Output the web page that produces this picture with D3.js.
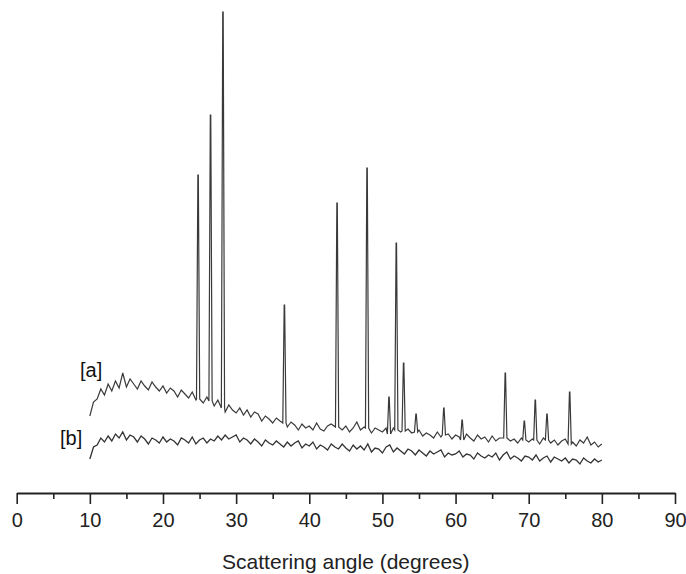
<!DOCTYPE html>
<html>
<head>
<meta charset="utf-8">
<script src="https://cdn.jsdelivr.net/npm/d3@7"></script>
<style>
  body { margin: 0; background: #fff; }
  text { font-family: "Liberation Sans", Arial, sans-serif; }
</style>
</head>
<body>
<div id="chart"></div>
<script>
// scan grid: 10 to 80 degrees, 0.5 degree step
const scanStart = 10, scanStep = 0.5;

// pattern [a] background, intensity (a.u.)
const baseA = [
  74, 88, 91, 101, 95, 106, 99, 109, 102, 117,
  103, 111, 106, 101, 109, 104, 100, 108, 103, 99,
  104, 97, 102, 99, 93, 100, 96, 92, 98, 90,
  91, 87, 93, 89, 84, 90, 82, 78, 85, 80,
  77, 82, 75, 80, 73, 78, 76, 69, 74, 71,
  67, 72, 69, 67, 63, 68, 65, 60, 66, 62,
  64, 60, 67, 61, 59, 64, 66, 59, 63, 60,
  64, 58, 62, 68, 60, 63, 62, 57, 62, 60,
  58, 62, 56, 62, 60, 58, 59, 61, 57, 58,
  60, 54, 57, 55, 52, 58, 53, 55, 56, 51,
  55, 53, 50, 56, 52, 49, 55, 51, 53, 48,
  54, 49, 52, 55, 52, 49, 51, 47, 52, 50,
  48, 51, 50, 46, 52, 50, 47, 50, 45, 49,
  51, 46, 48, 44, 50, 47, 53, 45, 48, 43,
  46
];

// pattern [b] background
const baseB = [
  31, 43, 45, 52, 48, 54, 49, 56, 52, 58,
  50, 55, 53, 48, 54, 51, 46, 52, 50, 47,
  53, 48, 51, 49, 45, 52, 50, 47, 53, 46,
  50, 52, 47, 51, 49, 54, 50, 55, 51, 53,
  55, 48, 52, 50, 46, 51, 48, 44, 50, 47,
  45, 49, 46, 43, 48, 44, 47, 49, 42, 46,
  44, 48, 41, 45, 43, 40, 46, 43, 41, 46,
  42, 39, 45, 41, 44, 40, 46, 38, 42, 41,
  37, 43, 45, 38, 42, 39, 36, 41, 39, 35,
  40, 37, 34, 39, 36, 38, 40, 33, 37, 35,
  36, 39, 33, 36, 35, 31, 37, 34, 32, 35,
  33, 37, 30, 35, 38, 31, 34, 32, 29, 34,
  33, 30, 35, 29, 32, 34, 28, 33, 31, 29,
  32, 27, 31, 30, 26, 32, 29, 27, 31, 28,
  30
];

// Bragg peaks of pattern [a]
const peakAngleA = [24.8, 26.5, 28.2, 36.6, 43.8, 47.9, 50.9, 51.9, 52.9, 54.6, 58.4, 60.9, 66.8, 69.4, 70.9, 72.5, 75.6];
const peakTopA   = [315, 375, 478, 185, 287, 322, 93, 247, 127, 76, 82, 70, 117, 69, 90, 76, 98];

const xTicks = [0, 10, 20, 30, 40, 50, 60, 70, 80, 90];
const xMinorTicks = [5, 15, 25, 35, 45, 55, 65, 75, 85];

const width = 686, height = 574;

const svg = d3.select("#chart")
    .append("svg")
    .attr("width", width)
    .attr("height", height);

const x = d3.scaleLinear().domain([0, 90]).range([16.7, 675]);
const y = d3.scaleLinear().domain([0, 480]).range([490, 10]);
const axisY = 493;

// build the scan points, peaks spliced into the background
function buildScan(base, peakAngles, peakTops) {
    const angles = base.map((v, i) => scanStart + i * scanStep);
    const pts = [];
    angles.forEach((a, i) => {
        const near = peakAngles.some(p => Math.abs(p - a) < 0.3);
        if (!near) pts.push([a, base[i]]);
    });
    peakAngles.forEach((c, k) => {
        const i = Math.round((c - scanStart) / scanStep);
        const b = base[Math.max(0, Math.min(base.length - 1, i))];
        pts.push([c - 0.22, b]);
        pts.push([c - 0.03, peakTops[k]]);
        pts.push([c + 0.03, peakTops[k]]);
        pts.push([c + 0.22, b]);
    });
    return pts.sort((p, q) => p[0] - q[0]);
}

const line = d3.line()
    .x(d => x(d[0]))
    .y(d => y(d[1]));

svg.append("path")
    .datum(buildScan(baseB, [], []))
    .attr("d", line)
    .attr("fill", "none")
    .attr("stroke", "#333")
    .attr("stroke-width", 1.3);

svg.append("path")
    .datum(buildScan(baseA, peakAngleA, peakTopA))
    .attr("d", line)
    .attr("fill", "none")
    .attr("stroke", "#3a3a3a")
    .attr("stroke-width", 1.2);

// series labels
svg.append("text").attr("x", 80).attr("y", 377)
    .attr("style", "font-size: 20px; fill: #111").text("[a]");
svg.append("text").attr("x", 60).attr("y", 445)
    .attr("style", "font-size: 20px; fill: #111").text("[b]");

// X axis (minor ticks first, then major with labels)
svg.append("g")
    .attr("transform", `translate(0, ${axisY})`)
    .call(d3.axisBottom(x).tickValues(xMinorTicks).tickSize(6).tickSizeOuter(0).tickFormat(""))
    .call(g => g.select(".domain").remove())
    .selectAll("line").attr("stroke", "#222").attr("stroke-width", 1.6);

const gx = svg.append("g")
    .attr("transform", `translate(0, ${axisY})`)
    .call(d3.axisBottom(x).tickValues(xTicks).tickSize(11).tickSizeOuter(0).tickPadding(9));
gx.select(".domain").attr("stroke", "#222").attr("stroke-width", 2);
gx.selectAll("line").attr("stroke", "#222").attr("stroke-width", 1.6);
gx.selectAll("text")
    .attr("style", "font-size: 20px; font-family: 'Liberation Sans', Arial, sans-serif; fill: #222");

svg.append("text")
    .attr("x", (x(0) + x(90)) / 2)
    .attr("y", 569)
    .attr("text-anchor", "middle")
    .attr("style", "font-size: 21px; fill: #222")
    .text("Scattering angle (degrees)");
</script>
</body>
</html>
